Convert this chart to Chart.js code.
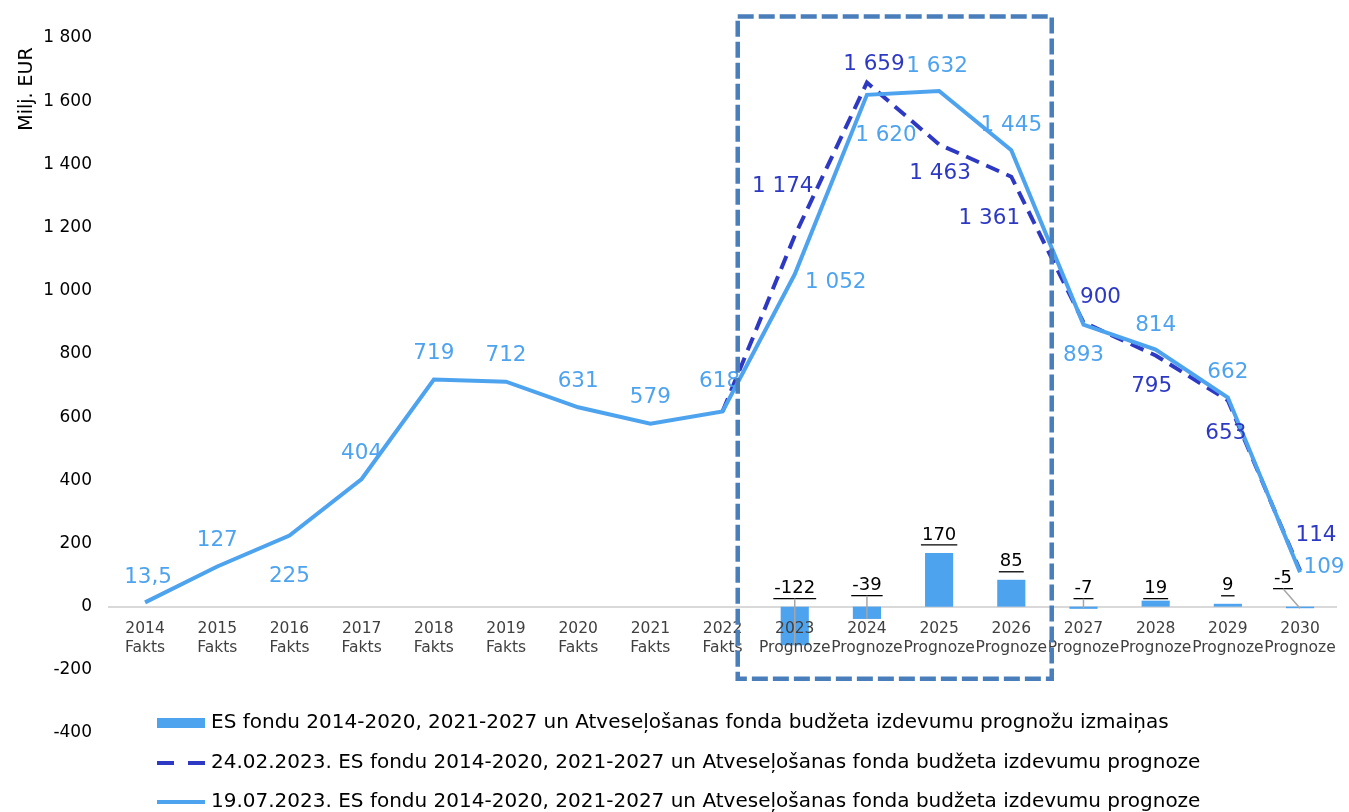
<!DOCTYPE html>
<html>
<head>
<meta charset="utf-8">
<script src="https://cdn.jsdelivr.net/npm/chart.js@4"></script>
<style>
  body { margin: 0; background: #fff; }
</style>
</head>
<body>
<canvas id="chart" width="1349" height="812"></canvas>
<script>
// data
const years = ['2014', '2015', '2016', '2017', '2018', '2019', '2020', '2021', '2022',
  '2023', '2024', '2025', '2026', '2027', '2028', '2029', '2030'];
const kinds = ['Fakts', 'Fakts', 'Fakts', 'Fakts', 'Fakts', 'Fakts', 'Fakts', 'Fakts', 'Fakts',
  'Prognoze', 'Prognoze', 'Prognoze', 'Prognoze', 'Prognoze', 'Prognoze', 'Prognoze', 'Prognoze'];
const changes = [null, null, null, null, null, null, null, null, null, -122, -39, 170, 85, -7, 19, 9, -5];
const forecastFeb = [null, null, null, null, null, null, null, null, 618, 1174, 1659, 1463, 1361, 900, 795, 653, 114];
const forecastJul = [13.5, 127, 225, 404, 719, 712, 631, 579, 618, 1052, 1620, 1632, 1445, 893, 814, 662, 109];

const seriesNames = [
  'ES fondu 2014-2020, 2021-2027 un Atveseļošanas fonda budžeta izdevumu prognožu izmaiņas',
  '24.02.2023. ES fondu 2014-2020, 2021-2027 un Atveseļošanas fonda budžeta izdevumu prognoze',
  '19.07.2023. ES fondu 2014-2020, 2021-2027 un Atveseļošanas fonda budžeta izdevumu prognoze'
];

// label placement (px offsets from the point), null = no label
const julOffsets = [[3, -25], [0, -26], [0, 41], [0, -26], [0, -26], [0, -26], [0, -26], [0, -26], [-3, -30],
  [41, 8], [19, 41], [-2, -25], [0, -25], [0, 31], [0, -24], [0, -25], [24, -5]];
const febOffsets = [null, null, null, null, null, null, null, null, null,
  [-12, -49], [7, -18], [1, 29], [-22, 42], [17, -25], [-4, 31], [-2, 33], [16, -35]];
const barOffsets = [null, null, null, null, null, null, null, null, null,
  [0, 0], [0, -3], [0, 0], [0, 0], [0, 0], [0, 6], [0, 0], [-17, -10]];

const lightBlue = '#4ea3ef';
const darkBlue = '#2e39c3';
const FONT = 'DejaVu Sans';

function fmt(v) {
  const parts = Math.abs(v).toString().split('.');
  const intPart = parts[0].replace(/\B(?=(\d{3})+(?!\d))/g, ' ');
  return (v < 0 ? '-' : '') + intPart + (parts[1] ? ',' + parts[1] : '');
}

const valueLabels = {
  id: 'valueLabels',
  afterDatasetsDraw(chart) {
    const ctx = chart.ctx;
    ctx.save();
    ctx.textAlign = 'center';
    ctx.textBaseline = 'middle';

    // line labels
    [[2, julOffsets, lightBlue], [1, febOffsets, darkBlue]].forEach(([di, offs, col]) => {
      const meta = chart.getDatasetMeta(di);
      const data = chart.data.datasets[di].data;
      ctx.font = '21.5px "' + FONT + '"';
      ctx.fillStyle = col;
      meta.data.forEach((el, i) => {
        if (data[i] == null || !offs[i]) return;
        ctx.fillText(fmt(data[i]), el.x + offs[i][0], el.y + offs[i][1]);
      });
    });

    // bar labels, underlined, with leader lines for negatives
    const meta = chart.getDatasetMeta(0);
    ctx.font = '18px "' + FONT + '"';
    meta.data.forEach((el, i) => {
      const v = changes[i];
      if (v == null) return;
      const off = barOffsets[i] || [0, 0];
      const x = el.x + off[0];
      const y = Math.min(el.y, el.base) - 18 + off[1];
      const txt = fmt(v);
      const w = ctx.measureText(txt).width;
      ctx.fillStyle = '#000';
      ctx.fillText(txt, x, y);
      ctx.strokeStyle = '#000';
      ctx.lineWidth = 1.3;
      ctx.beginPath();
      ctx.moveTo(x - w / 2 - 1, y + 10);
      ctx.lineTo(x + w / 2 + 1, y + 10);
      ctx.stroke();
      if (v < 0) {
        ctx.strokeStyle = '#a6a6a6';
        ctx.lineWidth = 1.5;
        ctx.beginPath();
        ctx.moveTo(x, y + 10);
        ctx.lineTo(el.x, el.y);
        ctx.stroke();
      }
    });
    ctx.restore();
  }
};

const boxAndLegend = {
  id: 'boxAndLegend',
  afterDraw(chart) {
    const ctx = chart.ctx;
    const xs = chart.scales.x, ys = chart.scales.y;
    ctx.save();

    // dashed highlight box around 2023-2026
    const left = xs.getPixelForValue(8.21), right = xs.getPixelForValue(12.56);
    const top = ys.getPixelForValue(1868), bottom = ys.getPixelForValue(-228);
    ctx.strokeStyle = '#4a7ebb';
    ctx.lineWidth = 4.5;
    ctx.setLineDash([16, 5]);
    ctx.strokeRect(left, top, right - left, bottom - top);
    ctx.setLineDash([]);

    // axis title, rotated, near the top of the axis
    ctx.fillStyle = '#000';
    ctx.font = '19px "' + FONT + '"';
    ctx.textAlign = 'center';
    ctx.textBaseline = 'middle';
    ctx.translate(27, 89);
    ctx.rotate(-Math.PI / 2);
    ctx.fillText('Milj. EUR', 0, 0);
    ctx.setTransform(1, 0, 0, 1, 0, 0);

    // legend
    const rowY = [723, 763, 802];
    ctx.font = '20px "' + FONT + '"';
    ctx.textAlign = 'left';
    ctx.textBaseline = 'middle';
    seriesNames.forEach((name, i) => {
      const y = rowY[i];
      if (i === 0) {
        ctx.fillStyle = lightBlue;
        ctx.fillRect(157, y - 5, 48, 10);
      } else {
        ctx.strokeStyle = i === 1 ? darkBlue : lightBlue;
        ctx.lineWidth = 4;
        ctx.setLineDash(i === 1 ? [17, 14] : []);
        ctx.beginPath();
        ctx.moveTo(157, y);
        ctx.lineTo(205, y);
        ctx.stroke();
        ctx.setLineDash([]);
      }
      ctx.fillStyle = '#000';
      ctx.fillText(name, 211, y);
    });
    ctx.restore();
  }
};

const ctx = document.getElementById('chart').getContext('2d');
const chart = new Chart(ctx, {
  type: 'bar',
  data: {
    labels: years.map((y, i) => [y, kinds[i]]),
    datasets: [
      {
        type: 'bar',
        label: seriesNames[0],
        data: changes,
        backgroundColor: lightBlue,
        categoryPercentage: 1,
        barPercentage: 0.39,
        order: 2
      },
      {
        type: 'line',
        label: seriesNames[1],
        data: forecastFeb,
        borderColor: darkBlue,
        borderWidth: 4,
        borderDash: [14, 8],
        pointRadius: 0,
        tension: 0,
        fill: false,
        order: 1
      },
      {
        type: 'line',
        label: seriesNames[2],
        data: forecastJul,
        borderColor: lightBlue,
        borderWidth: 4,
        pointRadius: 0,
        tension: 0,
        fill: false,
        order: 0
      }
    ]
  },
  options: {
    responsive: false,
    animation: false,
    layout: { padding: { top: 38, right: 9, bottom: 79, left: 0 } },
    plugins: {
      legend: { display: false },
      tooltip: { enabled: false }
    },
    scales: {
      x: {
        type: 'category',
        position: { y: 0 },
        offset: true,
        grid: { display: false, drawTicks: false },
        border: { display: true, color: '#d9d9d9', width: 2 },
        ticks: {
          z: 1,
          autoSkip: false,
          maxRotation: 0,
          padding: 13,
          color: '#404040',
          font: { family: FONT, size: 15.5 }
        }
      },
      y: {
        min: -400,
        max: 1800,
        grid: { display: false, drawTicks: false },
        border: { display: false },
        afterFit(scale) { scale.width = 109; },
        ticks: {
          stepSize: 200,
          padding: 17,
          color: '#000',
          font: { family: FONT, size: 17 },
          callback: v => fmt(v)
        }
      }
    }
  },
  plugins: [valueLabels, boxAndLegend]
});
</script>
</body>
</html>
